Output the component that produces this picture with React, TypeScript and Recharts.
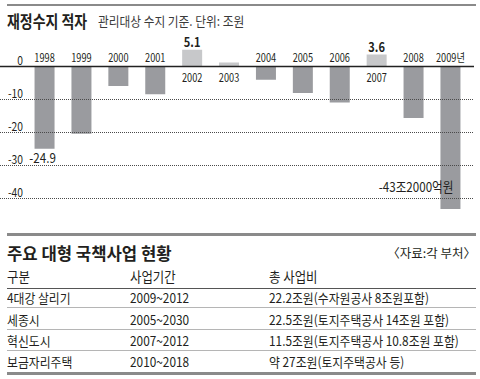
import { Bar, BarChart, Cell, LabelList, ReferenceLine, XAxis, YAxis } from "recharts"

// 재정수지 (관리대상 수지 기준, 조원)
const years = ['1998', '1999', '2000', '2001', '2002', '2003', '2004', '2005', '2006', '2007', '2008', '2009년']
const balance = [-24.9, -20.4, -5.9, -8.4, 5.1, 1.2, -4.0, -8.0, -10.9, 3.6, -15.6, -43.2]
const valueNotes = ['-24.9', '', '', '', '5.1', '', '', '', '', '3.6', '', '-43조2000억원']
const yTicks = [0, -10, -20, -30, -40]
const gridValues = [-10, -20, -30, -40]

// 주요 대형 국책사업 현황
const tableHeader = ['구분', '사업기간', '총 사업비']
const projects = ['4대강 살리기', '세종시', '혁신도시', '보금자리주택']
const periods = ['2009~2012', '2005~2030', '2007~2012', '2010~2018']
const costs = [
    '22.2조원(수자원공사 8조원포함)',
    '22.5조원(토지주택공사 14조원 포함)',
    '11.5조원(토지주택공사 10.8조원 포함)',
    '약 27조원(토지주택공사 등)',
]

const gothic = "'Noto Sans CJK KR', sans-serif"
const ink = '#231f20'

const data = years.map((year, i) => ({ year, value: balance[i] }))

// condensed svg text (the original uses a narrow newspaper gothic)
function NText({ x, y, sx = 0.82, size = 12, anchor = 'middle', bold = false, children }: any) {
    return (
        <text
            transform={`translate(${x},${y}) scale(${sx},1)`}
            textAnchor={anchor}
            fontFamily={gothic}
            fontSize={size}
            fontWeight={bold ? 'bold' : 'normal'}
            fill={ink}
        >
            {children}
        </text>
    )
}

function BarLabels(props: any) {
    const { x, y, width, height, index } = props
    const v = balance[index]
    const top = Math.min(y, y + height)
    const bottom = Math.max(y, y + height)
    const cx = x + width / 2
    const zeroY = v < 0 ? top : bottom
    const note = valueNotes[index]
    const last = index === years.length - 1
    return (
        <g>
            <NText x={cx} y={v < 0 ? zeroY - 4.5 : zeroY + 15} size={11.5} sx={0.8}>{years[index]}</NText>
            {note && v > 0 && <NText x={cx} y={top - 3} size={13} sx={0.85} bold>{note}</NText>}
            {note && v < 0 && !last && <NText x={cx - 2} y={bottom + 14} size={13.5} sx={0.86}>{note}</NText>}
            {note && last && <NText x={cx + 3} y={191.5} size={13.5} sx={0.86} anchor="end">{note}</NText>}
        </g>
    )
}

function tickLabel(text: string) {
    return (p: any) => <NText x={23} y={p.viewBox.y - 2} size={12} sx={0.86} anchor="end">{text}</NText>
}

const line = (top: number, height: number, color: string) => (
    <div style={{ position: 'absolute', left: 7, width: 469, top, height, background: color }} />
)

const cell = (left: number, center: number, text: string, size = 13, sx = 0.91) => (
    <div style={{
        position: 'absolute', left, top: center - 10, height: 20, lineHeight: '20px',
        fontFamily: gothic, fontSize: size, color: ink, whiteSpace: 'nowrap',
        transform: `scaleX(${sx})`, transformOrigin: 'left',
    }}>{text}</div>
)

export default function App() {
    const rowCenters = [298, 320, 340.5, 361.5]
    const cols = [7, 130, 269]
    return (
        <div style={{ position: 'absolute', left: 0, top: 0, width: 480, height: 379, background: '#fff', overflow: 'hidden' }}>
            {line(4, 2, '#8a8a8a')}
            <div style={{ position: 'absolute', left: 7, top: 8, whiteSpace: 'nowrap', transform: 'scaleX(0.82)', transformOrigin: 'left' }}>
                <span style={{ fontFamily: gothic, fontWeight: 'bold', fontSize: 17, color: ink }}>재정수지 적자</span>
            </div>
            <div style={{ position: 'absolute', left: 98, top: 11, whiteSpace: 'nowrap', transform: 'scaleX(0.9)', transformOrigin: 'left' }}>
                <span style={{ fontFamily: gothic, fontSize: 13, color: '#3a3a3a' }}>관리대상 수지 기준. 단위: 조원</span>
            </div>

            <div style={{ position: 'absolute', left: 0, top: 0 }}>
                <BarChart width={480} height={222} data={data} margin={{ top: 33.5, right: 6, bottom: 7, left: 0 }}>
                    <XAxis dataKey="year" hide padding={{ left: 26.55, right: 4.65 }} />
                    <YAxis
                        type="number"
                        domain={[-45, 10]}
                        width={0}
                        tick={false}
                        axisLine={false}
                        tickLine={false}
                        allowDataOverflow
                    />
                    {gridValues.map((t) => (
                        <ReferenceLine key={`g${t}`} y={t} stroke="#4a4a4a" strokeWidth={1} strokeDasharray="1 1" />
                    ))}
                    <Bar dataKey="value" barSize={20} isAnimationActive={false}>
                        {data.map((d, i) => (
                            <Cell key={i} fill={d.value < 0 ? '#9a9b9f' : '#c7c8ca'} />
                        ))}
                        <LabelList dataKey="value" content={BarLabels} />
                    </Bar>
                    <ReferenceLine y={0} stroke="#222" strokeWidth={1.5} />
                    {yTicks.map((t) => (
                        <ReferenceLine key={`t${t}`} y={t} stroke="none" label={tickLabel(String(t))} />
                    ))}
                </BarChart>
            </div>

            {line(233, 2.5, '#8a8a8a')}
            <div style={{ position: 'absolute', left: 7, top: 240, whiteSpace: 'nowrap', transform: 'scaleX(0.98)', transformOrigin: 'left' }}>
                <span style={{ fontFamily: gothic, fontWeight: 'bold', fontSize: 17, color: ink }}>주요 대형 국책사업 현황</span>
            </div>
            <div style={{ position: 'absolute', right: 4, top: 243, whiteSpace: 'nowrap', fontFamily: gothic, fontSize: 12.5, color: ink }}>
                〈자료:각 부처〉
            </div>
            {tableHeader.map((h, i) => cell(cols[i], 276, h, 13.5, 0.92))}
            {line(287.5, 1, '#555')}
            {projects.map((p, i) => (
                <div key={p}>
                    {cell(cols[0], rowCenters[i], p)}
                    {cell(cols[1], rowCenters[i], periods[i])}
                    {cell(cols[2], rowCenters[i], costs[i])}
                </div>
            ))}
            {line(306.5, 1, '#b5b5b5')}
            {line(328.5, 1, '#b5b5b5')}
            {line(350, 1, '#b5b5b5')}
            {line(372, 2.5, '#8a8a8a')}
        </div>
    )
}
